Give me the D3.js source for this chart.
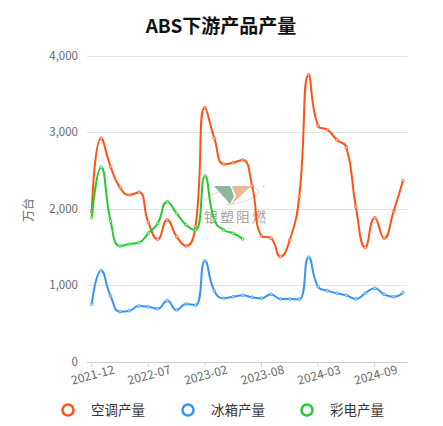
<!DOCTYPE html>
<html>
<head>
<meta charset="utf-8">
<script src="https://cdn.jsdelivr.net/npm/d3@7"></script>
<style>
  html, body { margin: 0; padding: 0; background: #fff; }
  svg { display: block; font-family: "Noto Sans CJK SC", "Noto Sans", sans-serif; }
</style>
</head>
<body>
<svg id="chart" width="443" height="426"></svg>
<script>
// Monthly categories (January is reported together with February)
const months = [
  "2021-12",
  "2022-02","2022-03","2022-04","2022-05","2022-06","2022-07","2022-08","2022-09","2022-10","2022-11","2022-12",
  "2023-02","2023-03","2023-04","2023-05","2023-06","2023-07","2023-08","2023-09","2023-10","2023-11","2023-12",
  "2024-02","2024-03","2024-04","2024-05","2024-06","2024-07","2024-08","2024-09","2024-10","2024-11","2024-12"
];
const tickMonths = ["2021-12","2022-07","2023-02","2023-08","2024-03","2024-09"];
const yTicks = [0, 1000, 2000, 3000, 4000];

// Output, 10k units
const acOutput = [1963,2922,2551,2277,2182,2217,1825,1603,1855,1637,1515,1768,
                  3322,2922,2583,2603,2639,2300,1646,1616,1376,1594,2160,
                  3749,3083,3031,2900,2804,2029,1493,1885,1616,1963,2369];
const fridgeOutput = [754,1193,862,657,670,732,722,696,801,679,758,741,
                      1319,928,832,853,871,845,832,884,823,823,819,
                      1368,984,932,897,871,823,897,963,884,853,905];
const tvOutput = [1885,2543,1842,1515,1541,1559,1681,1812,2094,1942,1790,1724,
                  2430,1855,1724,1681,1607];

const seriesNames = ["空调产量", "冰箱产量", "彩电产量"];
const seriesColors = ["#ff5214", "#3394ff", "#22cc2e"];
const seriesData = [acOutput, fridgeOutput, tvOutput];

const svg = d3.select("#chart");

const x = d3.scaleBand().domain(months).range([87, 407.7]);
const cx = m => x(m) + x.bandwidth() / 2;
const y = d3.scaleLinear().domain([0, 4000]).range([362, 55.7]);

// Smooth line with control points clamped between neighbours (no overshoot)
function clampedSmooth(context) {
  let pts = [];
  const smooth = 0.5;
  return {
    areaStart() {}, areaEnd() {},
    lineStart() { pts = []; },
    point(px, py) { pts.push([+px, +py]); },
    lineEnd() {
      const n = pts.length;
      if (!n) return;
      let cpx0, cpy0, cpx1, cpy1, prevX, prevY;
      for (let k = 0; k < n; k++) {
        const [px, py] = pts[k];
        if (k === 0) {
          context.moveTo(px, py);
          cpx0 = px; cpy0 = py;
        } else {
          let nextCpx0 = px, nextCpy0 = py;
          if (k === n - 1) {
            cpx1 = px; cpy1 = py;
          } else {
            const [nx, ny] = pts[k + 1];
            let vx = nx - prevX, vy = ny - prevY;
            const lenPrev = Math.hypot(px - prevX, py - prevY);
            const lenNext = Math.hypot(nx - px, ny - py);
            const ratioNext = lenNext / (lenNext + lenPrev);
            nextCpx0 = px + vx * smooth * ratioNext;
            nextCpy0 = py + vy * smooth * ratioNext;
            nextCpx0 = Math.max(Math.min(nextCpx0, Math.max(nx, px)), Math.min(nx, px));
            nextCpy0 = Math.max(Math.min(nextCpy0, Math.max(ny, py)), Math.min(ny, py));
            vx = nextCpx0 - px; vy = nextCpy0 - py;
            cpx1 = px - vx * lenPrev / lenNext;
            cpy1 = py - vy * lenPrev / lenNext;
            cpx1 = Math.max(Math.min(cpx1, Math.max(prevX, px)), Math.min(prevX, px));
            cpy1 = Math.max(Math.min(cpy1, Math.max(prevY, py)), Math.min(prevY, py));
            vx = px - cpx1; vy = py - cpy1;
            nextCpx0 = px + vx * lenNext / lenPrev;
            nextCpy0 = py + vy * lenNext / lenPrev;
          }
          context.bezierCurveTo(cpx0, cpy0, cpx1, cpy1, px, py);
          cpx0 = nextCpx0; cpy0 = nextCpy0;
        }
        prevX = px; prevY = py;
      }
    }
  };
}

// Title
svg.append("text")
  .attr("x", 221).attr("y", 33)
  .attr("text-anchor", "middle")
  .attr("font-size", 19).attr("font-weight", "bold").attr("fill", "#111")
  .text("ABS下游产品产量");

// Grid lines
svg.append("g").selectAll("line")
  .data(yTicks.filter(d => d > 0))
  .join("line")
  .attr("x1", 87).attr("x2", 407.7)
  .attr("y1", d => Math.round(y(d)) + 0.5).attr("y2", d => Math.round(y(d)) + 0.5)
  .attr("stroke", "#e3e3e3").attr("stroke-width", 1);

// Y axis labels
svg.append("g").selectAll("text")
  .data(yTicks)
  .join("text")
  .attr("x", 78).attr("y", d => y(d))
  .attr("dy", "0.35em")
  .attr("text-anchor", "end")
  .attr("font-size", 11.5).attr("fill", "#666")
  .text(d => d3.format(",")(d));

// Y axis name
svg.append("text")
  .attr("transform", "translate(29,210) rotate(-90)")
  .attr("text-anchor", "middle")
  .attr("dy", "0.35em")
  .attr("font-size", 12).attr("fill", "#666")
  .text("万台");

// X axis
const xAxis = d3.axisBottom(x).tickValues(tickMonths).tickSize(4).tickFormat("");
const gx = svg.append("g").attr("transform", "translate(0,362.5)").call(xAxis);
gx.select(".domain").attr("stroke", "#ccc").attr("d", "M87,0H407.7");
gx.selectAll(".tick line").attr("stroke", "#ccc");

svg.append("g").selectAll("text")
  .data(tickMonths)
  .join("text")
  .attr("transform", d => `translate(${cx(d) + 1},375) rotate(-15)`)
  .attr("text-anchor", "middle")
  .attr("dy", "0.35em")
  .attr("font-size", 12).attr("fill", "#666")
  .text(d => d);

// Watermark logo
const wm = svg.append("g").attr("opacity", 0.75);
wm.append("path")
  .attr("d", "M204,201 C214,189 252,184 258,190 C262,195 246,203 226,205")
  .attr("fill", "none").attr("stroke", "#ddd").attr("stroke-width", 1.5);
wm.append("polygon")
  .attr("points", "214,186 230,186 234,196 230,204")
  .attr("fill", "#6e9e7a");
wm.append("polygon")
  .attr("points", "232,186 251,186 231,205 236,196")
  .attr("fill", "#e8a070");
wm.append("text")
  .attr("x", 262).attr("y", 190).attr("font-size", 6).attr("fill", "#bbb").text("®");
wm.append("text")
  .attr("x", 236).attr("y", 222)
  .attr("text-anchor", "middle")
  .attr("font-size", 14).attr("letter-spacing", 2).attr("fill", "#888")
  .text("银塑阻燃");

// Series lines and point markers
const line = d3.line()
  .x((d, i) => cx(months[i]))
  .y(d => y(d))
  .curve(clampedSmooth);

seriesData.forEach((vals, s) => {
  const g = svg.append("g");
  g.append("path")
    .datum(vals)
    .attr("d", line)
    .attr("fill", "none")
    .attr("stroke", seriesColors[s])
    .attr("stroke-width", 2);
  g.selectAll("circle")
    .data(vals)
    .join("circle")
    .attr("cx", (d, i) => cx(months[i]))
    .attr("cy", d => y(d))
    .attr("r", 1.4)
    .attr("fill", "#fff")
    .attr("fill-opacity", 0.7)
    .attr("stroke", seriesColors[s])
    .attr("stroke-width", 0.8);
});

// Legend
const legendX = [68, 188, 307];
const lg = svg.append("g").selectAll("g")
  .data(seriesNames)
  .join("g")
  .attr("transform", (d, i) => `translate(${legendX[i]},410)`);
lg.append("circle")
  .attr("r", 5.5)
  .attr("fill", "#fff")
  .attr("stroke", (d, i) => seriesColors[i])
  .attr("stroke-width", 2.5);
lg.append("text")
  .attr("x", 23).attr("dy", "0.35em")
  .attr("font-size", 13.5).attr("fill", "#333")
  .text(d => d);
</script>
</body>
</html>
